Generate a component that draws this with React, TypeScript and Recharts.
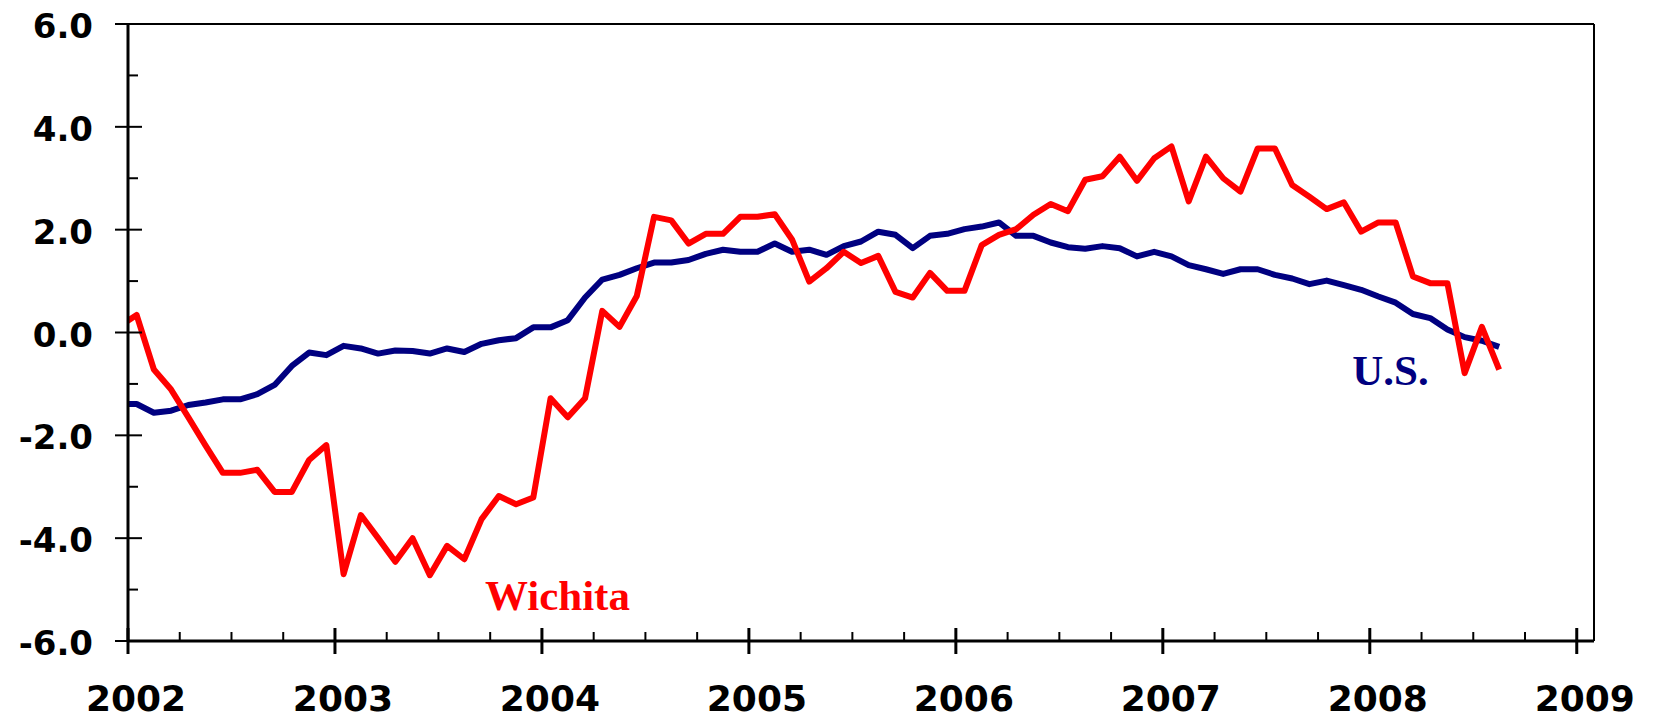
import React from 'react';
import { LineChart, Line, XAxis, YAxis, CartesianGrid, ReferenceLine, ReferenceDot } from 'recharts';

// Monthly categories: Dec 2001 (partly clipped at the left edge) through Aug 2008
const monthNames = ['Jan', 'Feb', 'Mar', 'Apr', 'May', 'Jun', 'Jul', 'Aug', 'Sep', 'Oct', 'Nov', 'Dec'];
const firstMonth = { year: 2001, month: 11 };

const wichita = [
  0.12,
  0.34, -0.72, -1.11, -1.65, -2.2, -2.73, -2.73, -2.67, -3.1, -3.1, -2.48, -2.19,
  -4.7, -3.55, -4.0, -4.46, -4.0, -4.72, -4.15, -4.41, -3.63, -3.18, -3.34, -3.21,
  -1.28, -1.65, -1.28, 0.42, 0.11, 0.71, 2.25, 2.18, 1.73, 1.92, 1.92, 2.25,
  2.25, 2.3, 1.81, 0.99, 1.25, 1.57, 1.35, 1.49, 0.79, 0.68, 1.16, 0.81,
  0.81, 1.7, 1.9, 2.01, 2.29, 2.5, 2.36, 2.97, 3.04, 3.42, 2.95, 3.39,
  3.62, 2.55, 3.42, 3.0, 2.74, 3.58, 3.58, 2.87, 2.64, 2.4, 2.53, 1.96,
  2.14, 2.14, 1.09, 0.96, 0.96, -0.79, 0.11, -0.72,
];

const us = [
  -1.39,
  -1.39, -1.56, -1.52, -1.41, -1.36, -1.3, -1.3, -1.2, -1.02, -0.65, -0.39, -0.44,
  -0.26, -0.31, -0.41, -0.35, -0.36, -0.41, -0.31, -0.38, -0.22, -0.15, -0.11, 0.1,
  0.1, 0.24, 0.68, 1.03, 1.12, 1.25, 1.36, 1.36, 1.41, 1.53, 1.61, 1.57,
  1.57, 1.73, 1.57, 1.61, 1.51, 1.68, 1.77, 1.96, 1.9, 1.64, 1.88, 1.92,
  2.01, 2.06, 2.14, 1.88, 1.88, 1.75, 1.66, 1.63, 1.68, 1.64, 1.48, 1.57,
  1.48, 1.31, 1.23, 1.14, 1.23, 1.23, 1.12, 1.05, 0.94, 1.01, 0.92, 0.83,
  0.7, 0.58, 0.36, 0.28, 0.06, -0.09, -0.16, -0.28,
];

const yearLabels = ['2002', '2003', '2004', '2005', '2006', '2007', '2008', '2009'];
const xTicks = [0, 3, 6, 9, 12, 15, 18, 21, 24, 27, 30, 33, 36, 39, 42, 45, 48, 51, 54, 57, 60, 63, 66, 69, 72, 75, 78, 81, 84];
const yTicks = [-6, -5, -4, -3, -2, -1, 0, 1, 2, 3, 4, 5, 6];
const gridTicks = [-6, -4, -2, 0, 2, 4, 6];

const data = wichita.map((w, i) => {
  const total = firstMonth.month + i;
  const year = firstMonth.year + Math.floor(total / 12);
  return {
    label: `${monthNames[total % 12]} ${year}`,
    m: i - 0.5, // months since Jan 1 2002, plotted at mid-month
    wichita: w,
    us: us[i],
  };
});

const FONT = '"DejaVu Sans", Verdana, sans-serif';

const XTick = (props: any) => {
  const { x, y, payload } = props;
  const v = payload.value as number;
  if (v % 12 === 0) {
    return (
      <g>
        <line x1={x} x2={x} y1={y - 13} y2={y + 13} stroke="#000" strokeWidth={3} />
        <text x={x + 8} y={y + 70} textAnchor="middle" fontFamily={FONT} fontWeight="bold" fontSize={36} fill="#000">
          {yearLabels[v / 12]}
        </text>
      </g>
    );
  }
  return <line x1={x} x2={x} y1={y - 9} y2={y} stroke="#000" strokeWidth={2} />;
};

const YTick = (props: any) => {
  const { x, y, payload } = props;
  const v = payload.value as number;
  if (v % 2 === 0) {
    return (
      <g>
        <line x1={x - 13} x2={x + 14} y1={y} y2={y} stroke="#000" strokeWidth={2} />
        <text x={x - 35} y={y + 14} textAnchor="end" fontFamily={FONT} fontWeight="bold" fontSize={34} fill="#000">
          {v.toFixed(1)}
        </text>
      </g>
    );
  }
  return <line x1={x} x2={x + 10} y1={y} y2={y} stroke="#000" strokeWidth={2} />;
};

export default function App() {
  return (
    <div style={{ margin: -8, width: 1655, height: 720, background: '#fff' }}>
      <LineChart width={1655} height={720} data={data} margin={{ top: 24, right: 61, bottom: 0, left: 0 }}>
        <CartesianGrid yAxisId="grid" vertical={false} stroke="#000" strokeWidth={1.5} />
        <XAxis
          dataKey="m"
          type="number"
          domain={[0, 85]}
          allowDataOverflow
          ticks={xTicks}
          interval={0}
          height={79}
          tickSize={0}
          tickMargin={0}
          tickLine={false}
          axisLine={{ stroke: '#000', strokeWidth: 3 }}
          tick={<XTick />}
        />
        <YAxis
          type="number"
          domain={[-6, 6]}
          allowDataOverflow
          ticks={yTicks}
          interval={0}
          width={128}
          tickSize={0}
          tickMargin={0}
          tickLine={false}
          axisLine={{ stroke: '#000', strokeWidth: 3 }}
          tick={<YTick />}
        />
        <YAxis yAxisId="grid" type="number" domain={[-6, 6]} ticks={gridTicks} hide />
        <ReferenceLine y={6} stroke="#000" strokeWidth={2} />
        <ReferenceLine x={85} stroke="#000" strokeWidth={2} />
        <Line
          type="linear"
          dataKey="us"
          stroke="#000080"
          strokeWidth={6}
          dot={false}
          isAnimationActive={false}
          strokeLinejoin="round"
        />
        <Line
          type="linear"
          dataKey="wichita"
          stroke="#FF0000"
          strokeWidth={6}
          dot={false}
          isAnimationActive={false}
          strokeLinejoin="round"
        />
        <ReferenceDot
          x={24.9}
          y={-5.1}
          r={0}
          fill="none"
          stroke="none"
          label={{ value: 'Wichita', position: 'center', fill: '#FF0000', fontSize: 43, fontWeight: 'bold', fontFamily: '"Liberation Serif", "Times New Roman", serif' }}
        />
        <ReferenceDot
          x={73.2}
          y={-0.72}
          r={0}
          fill="none"
          stroke="none"
          label={{ value: 'U.S.', position: 'center', fill: '#000080', fontSize: 43, fontWeight: 'bold', fontFamily: '"Liberation Serif", "Times New Roman", serif' }}
        />
      </LineChart>
    </div>
  );
}
